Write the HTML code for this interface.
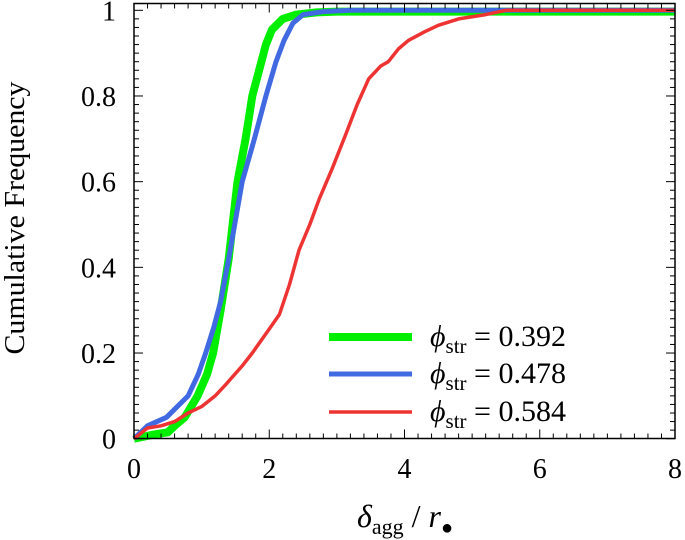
<!DOCTYPE html>
<html><head><meta charset="utf-8"><style>
html,body{margin:0;padding:0;background:#fff;}
svg{display:block;font-family:"Liberation Serif",serif;}
</style></head><body>
<svg id="chart" width="685" height="540" viewBox="0 0 685 540">
<g id="series"></g>
<g id="axes"></g>
<g id="legend">
 <line x1="329" y1="337" x2="412" y2="337" stroke="#00ee00" stroke-width="8"/>
 <text x="430" y="346" font-size="30"><tspan font-style="italic">ϕ</tspan><tspan font-size="21" dy="7">str</tspan><tspan dy="-7"> = 0.392</tspan></text>
 <line x1="329" y1="374" x2="412" y2="374" stroke="#4169e1" stroke-width="5"/>
 <text x="430" y="383" font-size="30"><tspan font-style="italic">ϕ</tspan><tspan font-size="21" dy="7">str</tspan><tspan dy="-7"> = 0.478</tspan></text>
 <line x1="329" y1="412" x2="412" y2="412" stroke="#ee3333" stroke-width="3.5"/>
 <text x="430" y="421" font-size="30"><tspan font-style="italic">ϕ</tspan><tspan font-size="21" dy="7">str</tspan><tspan dy="-7"> = 0.584</tspan></text>
</g>
<text x="405" y="527" font-size="32" text-anchor="middle"><tspan font-style="italic">δ</tspan><tspan font-size="22" dy="7">agg</tspan><tspan dy="-7"> / </tspan><tspan font-style="italic">r</tspan><tspan font-size="20" dy="7">●</tspan></text>
<text transform="translate(24,218) rotate(-90)" font-size="29" text-anchor="middle" textLength="273" lengthAdjust="spacingAndGlyphs">Cumulative Frequency</text>
</svg>
<script>
const xTicks = [0, 2, 4, 6, 8];
const yTicks = [0, 0.2, 0.4, 0.6, 0.8, 1];
const yTickLabels = ["0", "0.2", "0.4", "0.6", "0.8", "1"];
const greenX = [0, 0.3, 0.5, 0.6, 0.75, 0.94, 1.08, 1.17, 1.28, 1.4, 1.53, 1.65, 1.75, 1.85, 1.95, 2.04, 2.2, 2.4, 2.7, 3.0, 8];
const greenY = [0, 0.01, 0.015, 0.03, 0.05, 0.1, 0.15, 0.2, 0.3, 0.42, 0.6, 0.7, 0.8, 0.86, 0.92, 0.955, 0.98, 0.99, 0.995, 0.997, 0.997];
const blueX = [0, 0.2, 0.48, 0.8, 0.95, 1.06, 1.18, 1.28, 1.4, 1.6, 1.78, 1.95, 2.1, 2.22, 2.35, 2.5, 2.8, 3.2, 8];
const blueY = [0, 0.03, 0.05, 0.1, 0.15, 0.2, 0.26, 0.32, 0.42, 0.6, 0.7, 0.8, 0.88, 0.93, 0.97, 0.99, 0.997, 1, 1];
const redX = [0, 0.2, 0.4, 0.6, 0.8, 1.0, 1.2, 1.35, 1.46, 1.6, 1.75, 1.95, 2.15, 2.3, 2.44, 2.6, 2.74, 2.93, 3.13, 3.3, 3.47, 3.65, 3.76, 3.91, 4.06, 4.3, 4.5, 4.8, 5.2, 5.5, 8];
const redY = [0, 0.025, 0.03, 0.04, 0.06, 0.075, 0.1, 0.125, 0.145, 0.17, 0.2, 0.245, 0.29, 0.36, 0.44, 0.5, 0.56, 0.63, 0.71, 0.78, 0.84, 0.87, 0.88, 0.91, 0.93, 0.95, 0.965, 0.98, 0.99, 1, 1];
const L=134,R=675,T=3.5,B=438.5,Y0=438.7,Y1=10.3;
const sx=v=>L+(v-0)/8*(R-L);
const sy=v=>Y0-v*(Y0-Y1);
const NS="http://www.w3.org/2000/svg";
function mk(tag,attrs,parent){const e=document.createElementNS(NS,tag);for(const k in attrs)e.setAttribute(k,attrs[k]);parent.appendChild(e);return e;}
const axes=document.getElementById('axes');
const frame=mk('rect',{x:L,y:T,width:R-L,height:B-T,fill:'none',stroke:'#000','stroke-width':1.5},axes);


for(let i=0;i<=40;i++){const v=i*0.2;const x=sx(v);const major=i%10===0;const len=major?9:5;
 mk('line',{x1:x,y1:B,x2:x,y2:B-len,stroke:'#000','stroke-width':1},axes);
 mk('line',{x1:x,y1:T,x2:x,y2:T+len,stroke:'#000','stroke-width':1},axes);}
for(let i=0;i<=50;i++){const v=i*0.02;const y=sy(v);const major=i%10===0;const len=major?9:5;
 mk('line',{x1:L,y1:y,x2:L+len,y2:y,stroke:'#000','stroke-width':1},axes);
 mk('line',{x1:R,y1:y,x2:R-len,y2:y,stroke:'#000','stroke-width':1},axes);}
xTicks.forEach(v=>{const t=mk('text',{x:sx(v),y:478,'font-size':28,'text-anchor':'middle'},axes);t.textContent=v;
 
 });
yTicks.forEach((v,i)=>{const t=mk('text',{x:116,y:sy(v)+10,'font-size':28,'text-anchor':'end'},axes);t.textContent=yTickLabels[i];
 
 });
const ser=document.getElementById('series');
function line(xs,ys,col,w,name){const d=xs.map((x,i)=>(i?'L':'M')+sx(x).toFixed(1)+' '+sy(ys[i]).toFixed(1)).join(' ');
 const p=mk('path',{d:d,fill:'none',stroke:col,'stroke-width':w,'stroke-linejoin':'round'},ser);
 
 }
line(greenX,greenY,'#00ee00',8,'series-0392');
line(blueX,blueY,'#4169e1',5,'series-0478');
line(redX,redY,'#ee3333',3.5,'series-0584');
</script>
</body></html>
